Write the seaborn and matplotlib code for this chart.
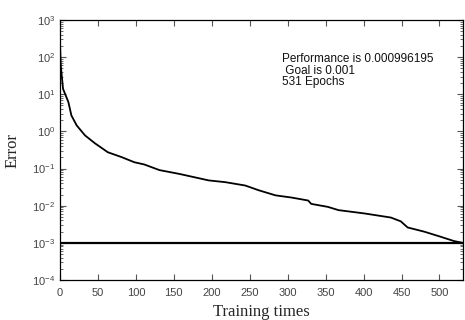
import matplotlib
matplotlib.use("Agg")
import matplotlib.pyplot as plt
import seaborn as sns
import pandas as pd
import numpy as np
from matplotlib.ticker import LogLocator, FixedLocator

epochs = [0, 1, 4, 11, 15, 22, 33, 46, 63, 81, 98, 111, 131, 157, 196, 218, 244,
          262, 284, 305, 327, 331, 353, 367, 401, 436, 449, 458, 480, 502, 519, 531]
errors = [240, 60, 14, 6.2, 2.7, 1.45, 0.78, 0.48, 0.275, 0.204, 0.148, 0.129,
          0.091, 0.072, 0.048, 0.043, 0.035, 0.026, 0.019, 0.0166, 0.0138, 0.0112,
          0.0093, 0.0076, 0.0062, 0.0048, 0.0038, 0.0026, 0.0020, 0.00145, 0.00112,
          0.000996195]
goal = 0.001
x_ticks = [0, 50, 100, 150, 200, 250, 300, 350, 400, 450, 500]
info_lines = ["Performance is 0.000996195", " Goal is 0.001", "531 Epochs"]

sns.set_style("ticks")
plt.rcParams['font.family'] = ['Liberation Sans', 'DejaVu Sans']

fig = plt.figure(figsize=(4.65, 3.2), dpi=100)
ax = fig.add_axes([60/465, 1 - 280/320, 403/465, 260/320])

df = pd.DataFrame({"epoch": epochs, "error": errors})
sns.lineplot(data=df, x="epoch", y="error", ax=ax, color="black", lw=1.3)
ax.axhline(goal, color="black", lw=1.6)

ax.set_yscale("log")
ax.set_ylim(1e-4, 1e3)
ax.set_xlim(0, 531)
ax.xaxis.set_major_locator(FixedLocator(x_ticks))
ax.yaxis.set_major_locator(LogLocator(base=10, numticks=20))
ax.yaxis.set_minor_locator(LogLocator(base=10, subs=np.arange(2, 10), numticks=20))

for s in ax.spines.values():
    s.set_visible(True)
    s.set_color("black")
    s.set_linewidth(0.9)

ax.tick_params(axis="both", which="both", direction="in", top=True, right=True,
               labelsize=8, labelcolor="#444444", color="#555555")
ax.tick_params(which="major", length=4, width=0.8)
ax.tick_params(which="minor", length=2, width=0.6)
ax.tick_params(axis="x", pad=6)

ax.set_xlabel("Training times", family="Liberation Serif", fontsize=12, labelpad=4)
ax.set_ylabel("Error", family="Liberation Serif", fontsize=12, labelpad=8)

ax.text(0.552, 0.875, "\n".join(info_lines), transform=ax.transAxes,
        fontsize=8.5, va="top", ha="left", color="#111111", linespacing=1.0)

fig.savefig("out.png", dpi=100)
